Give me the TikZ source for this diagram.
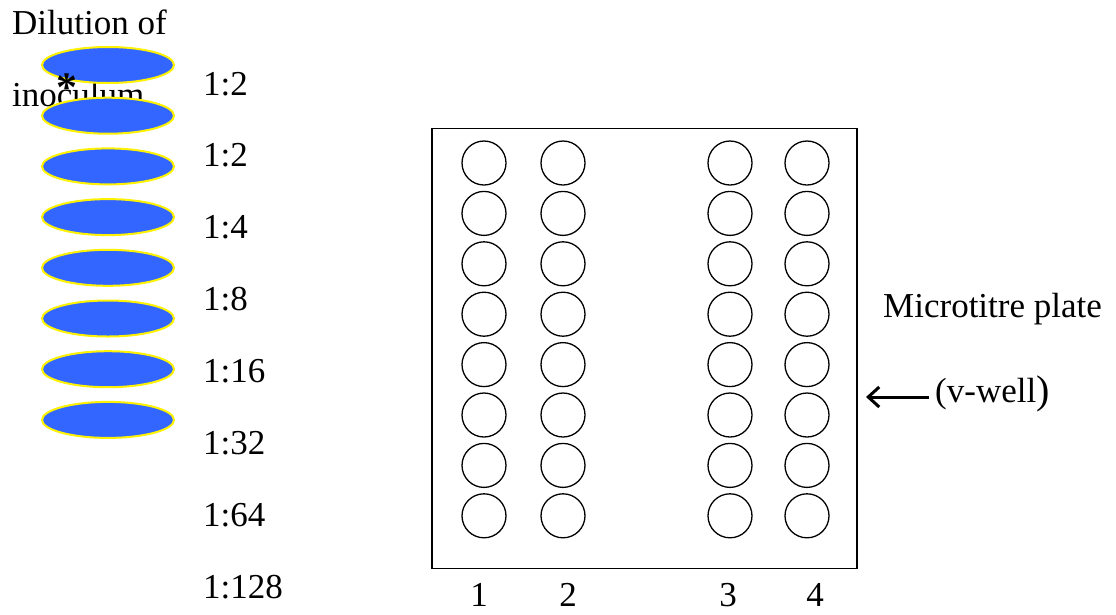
\documentclass[tikz,border=0pt]{standalone}
\usepackage{fontspec}
\setmainfont{Liberation Serif}
\usetikzlibrary{arrows.meta,shapes.geometric}
\begin{document}
\begin{tikzpicture}[x=1pt,y=-1pt,
  txt/.style={font=\fontsize{35}{40}\selectfont, inner sep=0pt},
  drop/.style={ellipse, draw=yellow, line width=2pt, fill={rgb,255:red,51;green,102;blue,255}, minimum width=132pt, minimum height=36pt, inner sep=0pt},
  well/.style={circle, draw=black, line width=1.3pt, minimum size=44pt, inner sep=0pt},
  platebox/.style={draw=black, line width=1.5pt, minimum width=425pt, minimum height=440pt, inner sep=0pt}]
\useasboundingbox (0,0) rectangle (1116,614);
% title text
\node[txt, anchor=base west] (t1) at (12,34) {Dilution of};
\node[txt, anchor=base west] (t2) at (12,106) {inoculum};
% drops
\foreach \i in {1,...,8} {
  \node[drop] (e\i) at (108, {65+(\i-1)*50.7}) {};
}
\node[txt, anchor=base west, font=\fontsize{42}{44}\bfseries] (ast) at (56,101) {*};
% dilution labels
\foreach \i/\l in {1/1:2, 2/1:2, 3/1:4, 4/1:8, 5/1:16, 6/1:32, 7/1:64, 8/1:128} {
  \node[txt, anchor=base west] (d\i) at (203, {95+(\i-1)*71.9}) {\l};
}
% plate
\node[platebox] (plate) at (644.5,348.5) {};
\foreach \c/\x in {1/484, 2/563, 3/730, 4/807} {
  \foreach \r in {1,...,8} {
    \node[well] (w\c-\r) at (\x, {163+(\r-1)*50.4}) {};
  }
}
\foreach \c/\x in {1/479, 2/568, 3/728, 4/815} {
  \node[txt, anchor=base] (c\c) at (\x, 606) {\c};
}
\node[txt, anchor=base west] (mp) at (883,317) {Microtitre plate};
\node[txt, anchor=base west] (vw) at (935,402) {(v-well\raisebox{-1pt}{\fontsize{40}{44}\selectfont )}};
\coordinate (tip) at (866,397);
\draw[line width=3pt, -{Straight Barb[length=11pt,width=20pt]}] (vw.west |- tip) ++(-6,0) -- (tip);
\end{tikzpicture}
\end{document}
